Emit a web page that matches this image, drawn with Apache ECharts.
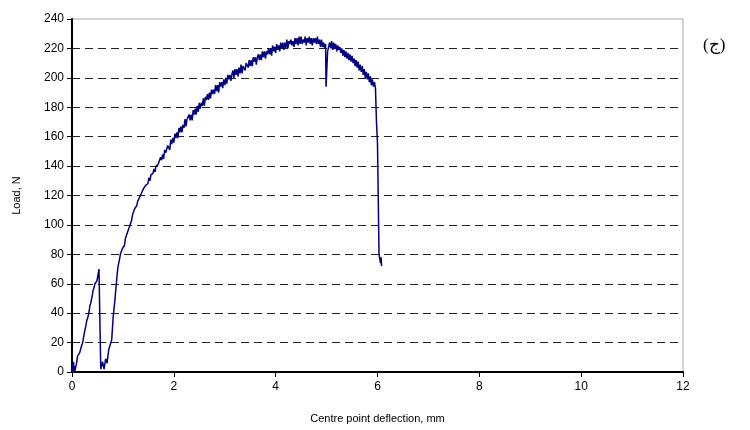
<!DOCTYPE html>
<html>
<head>
<meta charset="utf-8">
<script src="https://cdn.jsdelivr.net/npm/echarts@6/dist/echarts.min.js"></script>
<style>html,body{margin:0;padding:0;background:#fff}#c{width:750px;height:430px}</style>
</head>
<body>
<div id="c"></div>
<script>
const xTicks = [0, 2, 4, 6, 8, 10, 12];
const yTicks = [0, 20, 40, 60, 80, 100, 120, 140, 160, 180, 200, 220, 240];
const xLabel = 'Centre point deflection, mm';
const yLabel = 'Load, N';
const panelTag = '(ج)';

// [deflection mm, load N], in loading order
const firstLoading = [
[0,0],[0.01,6],[0.02,1],[0.03,7],[0.04,0],[0.05,4],[0.06,1],[0.07,3],[0.08,2],[0.09,6],
[0.10,5],[0.11,11],[0.12,10],[0.13,12],[0.14,11],[0.15,13],[0.16,12],[0.17,14],[0.18,13],[0.19,18],
[0.20,17],[0.21,20],[0.22,21],[0.23,24],[0.24,25],[0.25,28],[0.26,27],[0.27,31],[0.28,32],[0.29,35],
[0.30,34],[0.31,37],[0.32,38],[0.33,40],[0.34,42],[0.35,45],[0.36,44],[0.37,47],[0.38,49],[0.39,50],
[0.40,52],[0.41,55],[0.42,54],[0.43,57],[0.44,58],[0.45,60],[0.46,59],[0.47,61],[0.48,60],[0.49,62],
[0.50,61],[0.51,63],[0.52,62],[0.53,70],[0.535,69],[0.55,30],[0.565,2]
];
const reloading = [
[0.57,2],[0.60,7],[0.63,2],[0.66,9],[0.69,6],[0.72,15],[0.75,14],[0.78,22],[0.81,38],[0.84,48],
[0.87,60],[0.90,71],[0.93,76],[0.95,80],[0.97,79],[0.99,84],[1.01,85],[1.03,86],[1.05,91],[1.07,90],
[1.09,95],[1.11,96],[1.13,99],[1.15,101],[1.17,103],[1.19,107],[1.21,106],[1.23,111],[1.25,112],[1.27,113],
[1.29,116],[1.31,115],[1.33,119],[1.35,118],[1.37,122],[1.39,121],[1.41,125],[1.43,124],[1.45,127],[1.47,128],
[1.49,128],[1.51,132],[1.53,130],[1.55,134],[1.57,134],[1.59,135],[1.61,138],[1.63,136],[1.65,140],[1.67,139],
[1.69,141]
];
const peakRegion = [
[1.70,142],[1.72,140],[1.74,146],[1.76,144],[1.78,148],[1.80,145],[1.82,151],[1.84,149],[1.86,148],[1.88,154],
[1.90,154],[1.92,151],[1.94,158],[1.96,155],[1.98,159],[2.00,156],[2.02,162],[2.04,159],[2.06,163],[2.08,159],
[2.10,166],[2.12,163],[2.14,167],[2.16,163],[2.18,168],[2.20,166],[2.22,172],[2.24,167],[2.26,172],[2.28,171],
[2.30,175],[2.32,171],[2.34,175],[2.36,171],[2.38,178],[2.40,175],[2.42,179],[2.44,175],[2.46,181],[2.48,177],
[2.50,183],[2.52,179],[2.54,183],[2.56,181],[2.58,186],[2.60,181],[2.62,187],[2.64,185],[2.66,189],[2.68,185],
[2.70,190],[2.72,186],[2.74,192],[2.76,189],[2.78,192],[2.80,189],[2.82,195],[2.84,191],[2.86,195],[2.88,190],
[2.90,197],[2.92,194],[2.94,197],[2.96,193],[2.98,199],[3.00,195],[3.02,200],[3.04,196],[3.06,202],[3.08,199],
[3.10,202],[3.12,198],[3.14,202],[3.16,205],[3.18,200],[3.20,206],[3.22,202],[3.24,206],[3.26,201],[3.28,207],
[3.30,203],[3.32,209],[3.34,203],[3.36,208],[3.38,209],[3.40,205],[3.42,210],[3.44,209],[3.46,207],[3.48,212],
[3.50,208],[3.52,212],[3.54,208],[3.56,214],[3.58,211],[3.60,214],[3.62,209],[3.64,214],[3.66,216],[3.68,212],
[3.70,216],[3.72,212],[3.74,218],[3.76,214],[3.78,218],[3.80,213],[3.82,218],[3.84,216],[3.86,220],[3.88,216],
[3.90,220],[3.92,215],[3.94,222],[3.96,218],[3.98,221],[4.00,217],[4.02,223],[4.04,219],[4.06,222],[4.08,218],
[4.10,224],[4.12,220],[4.14,224],[4.16,219],[4.18,224],[4.20,220],[4.22,226],[4.24,220],[4.26,225],[4.28,223],
[4.30,226],[4.32,222],[4.34,225],[4.36,221],[4.38,227],[4.40,223],[4.42,227],[4.44,222],[4.46,228],[4.48,223],
[4.50,228],[4.52,223],[4.54,226],[4.56,224],[4.58,228],[4.60,222],[4.62,227],[4.64,224],[4.66,228],[4.68,223],
[4.70,227],[4.72,222],[4.74,227],[4.76,224],[4.78,227],[4.80,223],[4.82,228],[4.84,223],[4.86,226],[4.88,221],
[4.90,226],[4.92,221],[4.94,224],[4.96,220],[4.98,223],[4.99,194],[5.01,210],[5.02,218],[5.04,221],[5.06,224],
[5.08,220],[5.10,225],[5.12,219],[5.14,224],[5.16,220],[5.18,223],[5.20,218],[5.22,222],[5.24,219],[5.26,221],
[5.28,217],[5.30,220],[5.32,215],[5.34,219],[5.36,214],[5.38,218],[5.40,213],[5.42,217],[5.44,212],[5.46,216],
[5.48,211],[5.50,215],[5.52,210],[5.54,213],[5.56,208],[5.58,212],[5.60,207],[5.62,211],[5.64,205],[5.66,209],
[5.68,204],[5.70,208],[5.72,202],[5.74,206],[5.76,200],[5.78,204],[5.80,199],[5.82,203],[5.84,197],[5.86,201],
[5.88,195],[5.90,199],[5.92,194],[5.94,197],[5.96,193]
];
const failure = [
[5.98,170],[6.00,155],[6.02,154],[6.03,80],[6.05,79],[6.06,74],[6.07,78],[6.08,72]
];

const points = firstLoading.concat(reloading, peakRegion, failure);

const chart = echarts.init(document.getElementById('c'), null, {renderer: 'canvas'});
const font = 'Liberation Sans, Arial, sans-serif';
chart.setOption({
  animation: false,
  backgroundColor: '#fff',
  grid: {left: 72, right: 67, top: 19, bottom: 58, show: true, borderColor: '#a6a6a6', borderWidth: 1},
  xAxis: {
    type: 'value', min: xTicks[0], max: xTicks[xTicks.length - 1], interval: 2,
    name: xLabel, nameLocation: 'middle', nameGap: 41,
    nameTextStyle: {fontFamily: font, fontSize: 11, color: '#000'},
    axisLine: {lineStyle: {color: '#000', width: 2}},
    axisTick: {show: true, inside: false, length: 5, lineStyle: {color: '#000', width: 1}},
    axisLabel: {fontFamily: font, fontSize: 12, color: '#000', margin: 9},
    splitLine: {show: false}
  },
  yAxis: {
    type: 'value', min: yTicks[0], max: yTicks[yTicks.length - 1], interval: 20,
    name: yLabel, nameLocation: 'middle', nameGap: 50, nameRotate: 90,
    nameTextStyle: {fontFamily: font, fontSize: 11, color: '#000'},
    axisLine: {show: true, lineStyle: {color: '#000', width: 2}},
    axisTick: {show: true, inside: false, length: 5, lineStyle: {color: '#000', width: 1}},
    axisLabel: {fontFamily: font, fontSize: 12, color: '#000', margin: 8},
    splitLine: {show: true, showMaxLine: false, showMinLine: false,
      lineStyle: {color: '#222', width: 1, type: [8, 5]}}
  },
  graphic: [{
    type: 'text', left: 703, top: 37,
    style: {text: panelTag, font: '17px "Liberation Serif", "Noto Sans", serif', fill: '#000'}
  }],
  series: [{
    type: 'line', data: points, showSymbol: false, symbol: 'none',
    lineStyle: {color: '#000080', width: 1.5}
  }]
});
</script>
</body>
</html>
